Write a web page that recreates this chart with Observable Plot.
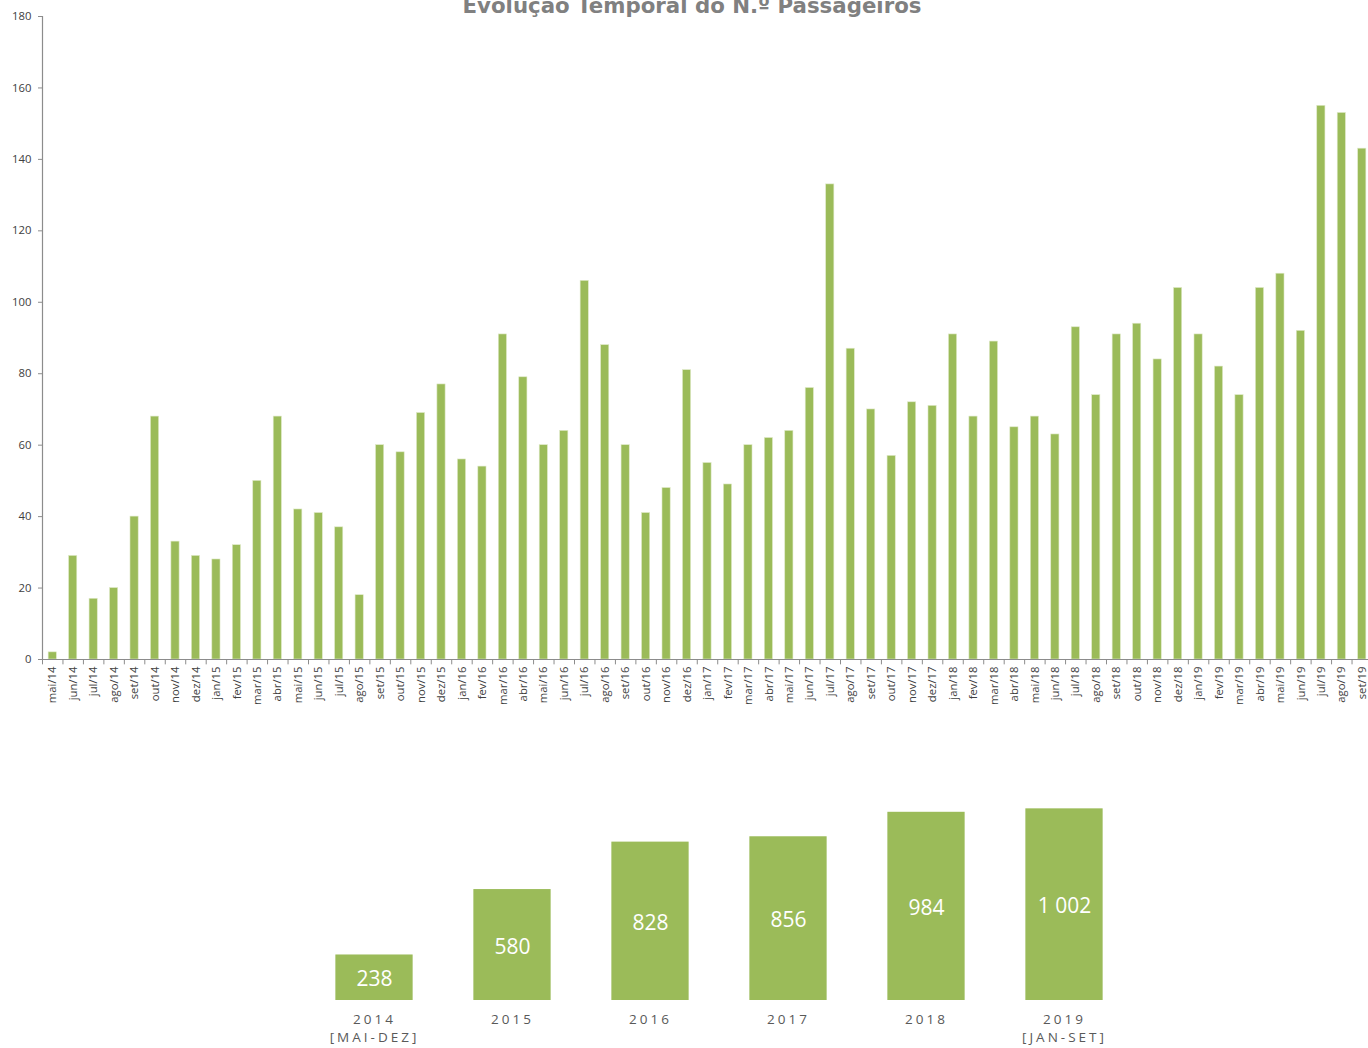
<!DOCTYPE html>
<html><head><meta charset="utf-8">
<script src="https://cdn.jsdelivr.net/npm/d3@7"></script>
<script src="https://cdn.jsdelivr.net/npm/@observablehq/plot@0.6"></script>
<style>
html,body{margin:0;padding:0;background:#fff;overflow:hidden;width:1368px;height:1048px;}
#wrap{position:relative;width:1368px;height:1048px;overflow:hidden;}
#title{position:absolute;left:0;width:1384px;text-align:center;top:-5px;font:bold 21.3px "DejaVu Sans";line-height:21px;color:#808080;margin:0;white-space:nowrap;z-index:2;}
#topChart{position:absolute;left:0;top:0;}
#topChart svg{max-width:none;}
#bottomChart{position:absolute;left:0;top:710px;}
#bottomChart svg{overflow:visible;}
#bottomChart g[aria-label="x-axis tick label"] text{letter-spacing:3px;}
</style></head><body>
<div id="wrap"><div id="topChart"></div><div id="bottomChart"></div><div id="title">Evolução Temporal do N.º Passageiros</div></div>
<script>
const months = ["mai/14","jun/14","jul/14","ago/14","set/14","out/14","nov/14","dez/14",
"jan/15","fev/15","mar/15","abr/15","mai/15","jun/15","jul/15","ago/15","set/15","out/15","nov/15","dez/15",
"jan/16","fev/16","mar/16","abr/16","mai/16","jun/16","jul/16","ago/16","set/16","out/16","nov/16","dez/16",
"jan/17","fev/17","mar/17","abr/17","mai/17","jun/17","jul/17","ago/17","set/17","out/17","nov/17","dez/17",
"jan/18","fev/18","mar/18","abr/18","mai/18","jun/18","jul/18","ago/18","set/18","out/18","nov/18","dez/18",
"jan/19","fev/19","mar/19","abr/19","mai/19","jun/19","jul/19","ago/19","set/19"];
const passengers = [2,29,17,20,40,68,33,29,
28,32,50,68,42,41,37,18,60,58,69,77,
56,54,91,79,60,64,106,88,60,41,48,81,
55,49,60,62,64,76,133,87,70,57,72,71,
91,68,89,65,68,63,93,74,91,94,84,104,
91,82,74,104,108,92,155,153,143];
const yTicks = [0,20,40,60,80,100,120,140,160,180];

const years = ["2014","2015","2016","2017","2018","2019"];
const yearNotes = ["[MAI-DEZ]","","","","","[JAN-SET]"];
const yearTotals = [238,580,828,856,984,1002];

const green = "#9BBB59";
const axisGray = "#8c8c8c";
const textGray = "#404040";

// ---- Top chart ----
const monthly = months.map((m,i)=>({month:m, value:passengers[i]}));
const W1 = 1372, mL1 = 42, mR1 = 0;
const step1 = (W1 - mL1 - mR1) / months.length;
const chartTop = Plot.plot({
  width: W1, height: 710,
  marginTop: 16, marginBottom: 51, marginLeft: mL1, marginRight: mR1,
  style: {fontFamily: "'Open Sans', sans-serif", fontSize: "11.3px", color: textGray, background: "transparent"},
  x: {domain: months, paddingInner: 0.6, paddingOuter: 0.3, round: false, label: null},
  y: {domain: [0,180], label: null},
  marks: [
    Plot.barY(monthly, {x: "month", y: "value", fill: green, stroke: "#dfe9c8", strokeWidth: 0.6}),
    Plot.ruleY([0], {stroke: axisGray, strokeWidth: 1.2}),
    Plot.ruleX([months[0]], {dx: -step1/2, y1: 0, y2: 180, stroke: axisGray, strokeWidth: 1.2}),
    Plot.ruleX(months, {dx: -step1/2, y1: 0, y2: -1.5, stroke: axisGray}),
    Plot.ruleX([months[months.length-1]], {dx: step1/2, y1: 0, y2: -1.5, stroke: axisGray}),
    Plot.axisY(yTicks, {tickSize: 4, tickPadding: 7, stroke: axisGray, fill: textGray, label: null}),
    Plot.axisX({tickSize: 0, tickPadding: 7, tickRotate: -90, fill: textGray, label: null})
  ]
});
document.getElementById("topChart").appendChild(chartTop);

// ---- Bottom chart ----
const yearly = years.map((y,i)=>({year:y, total:yearTotals[i], note:yearNotes[i]}));
const fmt = v => d3.format(",")(v).replace(/,/g, " ");
const chartBottom = Plot.plot({
  width: 1368, height: 338,
  marginTop: 79.6, marginBottom: 48, marginLeft: 305, marginRight: 1368 - 1133,
  style: {fontFamily: "'Open Sans', sans-serif", fontSize: "13.5px", color: "#595959", background: "transparent"},
  x: {domain: years, paddingInner: 0.44, paddingOuter: 0.22, round: false, label: null},
  y: {domain: [0,1100], axis: null},
  marks: [
    Plot.barY(yearly, {x: "year", y: "total", fill: green}),
    Plot.text(yearly, {x: "year", y: d => d.total/2, text: d => fmt(d.total), fill: "#fff", fontSize: 21, dy: 2}),
    Plot.axisX({tickSize: 0, tickPadding: 11, lineHeight: 1.3, fill: "#595959", label: null,
      tickFormat: y => yearNotes[years.indexOf(y)] ? y + "\n" + yearNotes[years.indexOf(y)] : y})
  ]
});
document.getElementById("bottomChart").appendChild(chartBottom);
</script>
</body></html>
